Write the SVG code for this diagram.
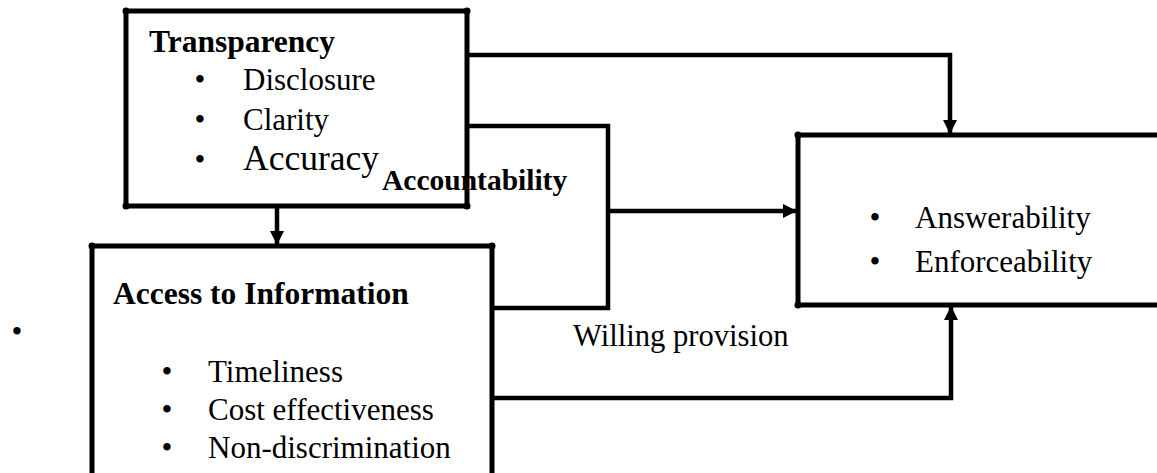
<svg xmlns="http://www.w3.org/2000/svg" width="1157" height="473" viewBox="0 0 1157 473">
  <style>
    .t { font-family: "Liberation Serif", "Times New Roman", serif; fill: #000; }
    .r { font-size: 31px; }
    .b { font-size: 31.5px; font-weight: bold; }
    .box { fill: none; stroke: #000; stroke-width: 5; }
    .cn { fill: none; stroke: #000; stroke-width: 4.5; }
    .dot { fill: #000; }
  </style>
  <defs>
    <marker id="ah" markerUnits="userSpaceOnUse" markerWidth="16" markerHeight="16" refX="14" refY="7" orient="auto">
      <path d="M0,0 L14,7 L0,14 Z" fill="#000"/>
    </marker>
  </defs>
  <rect width="1157" height="473" fill="#fff"/>

  <g id="connectors">
    <path class="cn" d="M467,55 H950 V134" marker-end="url(#ah)"/>
    <path class="cn" d="M467,126 H608 V308 H492"/>
    <path class="cn" d="M608,211 H797" marker-end="url(#ah)"/>
    <path class="cn" d="M492,398 H951 V306" marker-end="url(#ah)"/>
    <path class="cn" d="M277,206 V245" marker-end="url(#ah)"/>
  </g>

  <g id="transparency">
    <rect class="box" x="126" y="11" width="341" height="195"/>
    <circle class="dot" cx="126" cy="11" r="3.5"/>
    <circle class="dot" cx="467" cy="11" r="3.5"/>
    <circle class="dot" cx="126" cy="206" r="3.5"/>
    <circle class="dot" cx="467" cy="206" r="3.5"/>
    <text class="t b" x="149" y="52">Transparency</text>
    <text class="t r" x="194.5" y="90">•</text>
    <text class="t r" x="243" y="90">Disclosure</text>
    <text class="t r" x="194.5" y="130">•</text>
    <text class="t r" x="243" y="130">Clarity</text>
    <text class="t r" x="194.5" y="170">•</text>
    <text class="t" x="243" y="170" font-size="35.5">Accuracy</text>
  </g>

  <g id="accountability-label">
    <text class="t" x="382" y="190" font-size="29.5" font-weight="bold">Accountability</text>
  </g>

  <g id="access">
    <path class="box" d="M92,480 V246 H492 V480"/>
    <circle class="dot" cx="92" cy="246" r="3.5"/>
    <circle class="dot" cx="492" cy="246" r="3.5"/>
    <text class="t b" x="113" y="304">Access to Information</text>
    <text class="t r" x="161.5" y="382">•</text>
    <text class="t r" x="208" y="382">Timeliness</text>
    <text class="t r" x="161.5" y="420">•</text>
    <text class="t r" x="208" y="420">Cost effectiveness</text>
    <text class="t r" x="161.5" y="458">•</text>
    <text class="t r" x="208" y="458">Non-discrimination</text>
  </g>

  <g id="stray-bullet">
    <text class="t r" x="11.5" y="342">•</text>
  </g>

  <g id="willing-label">
    <text class="t" x="573" y="346" font-size="30.6">Willing provision</text>
  </g>

  <g id="accountability">
    <path class="box" d="M1165,135 H798 V305 H1165"/>
    <circle class="dot" cx="798" cy="135" r="3.5"/>
    <circle class="dot" cx="798" cy="305" r="3.5"/>
    <text class="t r" x="869.5" y="228">•</text>
    <text class="t r" x="915" y="228">Answerability</text>
    <text class="t r" x="869.5" y="272">•</text>
    <text class="t r" x="915" y="272">Enforceability</text>
  </g>
</svg>
